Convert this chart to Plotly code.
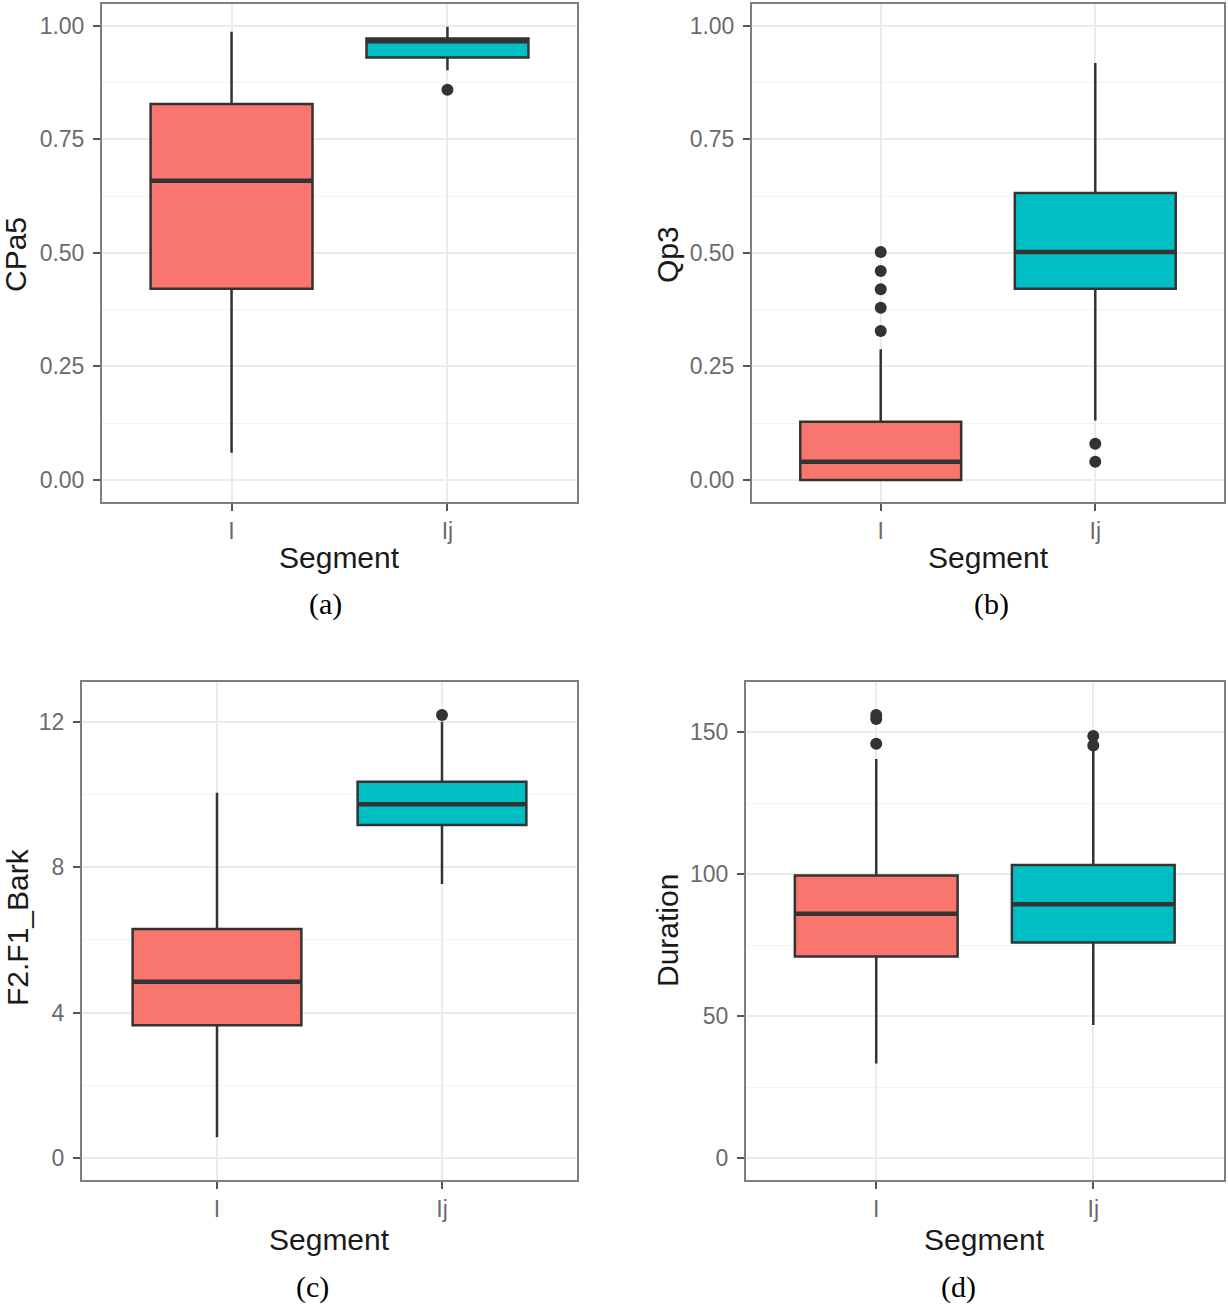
import plotly.graph_objects as go

# ---------------- data ----------------
categories = ["I", "Ij"]
fill_colors = ["#F8766D", "#00BFC4"]

# (a) CPa5
cpa5_lower = [0.06, 0.902]
cpa5_q1 = [0.421, 0.930]
cpa5_median = [0.659, 0.966]
cpa5_q3 = [0.828, 0.972]
cpa5_upper = [0.987, 0.998]
cpa5_outliers_I = []
cpa5_outliers_Ij = [0.859]

# (b) Qp3
qp3_lower = [0.0, 0.131]
qp3_q1 = [0.0, 0.421]
qp3_median = [0.040, 0.502]
qp3_q3 = [0.128, 0.632]
qp3_upper = [0.288, 0.918]
qp3_outliers_I = [0.328, 0.379, 0.420, 0.460, 0.502]
qp3_outliers_Ij = [0.040, 0.080]

# (c) F2.F1_Bark
bark_lower = [0.57, 7.54]
bark_q1 = [3.65, 9.16]
bark_median = [4.85, 9.73]
bark_q3 = [6.30, 10.35]
bark_upper = [10.05, 12.0]
bark_outliers_I = []
bark_outliers_Ij = [12.19]

# (d) Duration
dur_lower = [33.3, 46.8]
dur_q1 = [71.0, 75.9]
dur_median = [86.0, 89.4]
dur_q3 = [99.5, 103.2]
dur_upper = [140.5, 144.2]
dur_outliers_I = [145.9, 154.6, 156.0]
dur_outliers_Ij = [145.3, 148.6]

y_titles = ["CPa5", "Qp3", "F2.F1_Bark", "Duration"]
captions = ["(a)", "(b)", "(c)", "(d)"]
x_title = "Segment"

y_ticks = [
    [0, 0.25, 0.5, 0.75, 1.0],
    [0, 0.25, 0.5, 0.75, 1.0],
    [0, 4, 8, 12],
    [0, 50, 100, 150],
]
y_ticktext = [
    ["0.00", "0.25", "0.50", "0.75", "1.00"],
    ["0.00", "0.25", "0.50", "0.75", "1.00"],
    ["0", "4", "8", "12"],
    ["0", "50", "100", "150"],
]
y_minor = [0.125, 0.125, 2, 25]
y_ranges = [[-0.0485, 1.048], [-0.0485, 1.048], [-0.605, 13.11], [-7.75, 167.8]]

panels = [
    (cpa5_lower, cpa5_q1, cpa5_median, cpa5_q3, cpa5_upper, [cpa5_outliers_I, cpa5_outliers_Ij]),
    (qp3_lower, qp3_q1, qp3_median, qp3_q3, qp3_upper, [qp3_outliers_I, qp3_outliers_Ij]),
    (bark_lower, bark_q1, bark_median, bark_q3, bark_upper, [bark_outliers_I, bark_outliers_Ij]),
    (dur_lower, dur_q1, dur_median, dur_q3, dur_upper, [dur_outliers_I, dur_outliers_Ij]),
]

# ---------------- layout geometry (pixels) ----------------
W, H = 1228, 1307
frames = [  # left, right, top, bottom
    (102, 577, 4, 502),
    (752, 1224, 4, 502),
    (82, 577, 681.5, 1180),
    (746, 1223.5, 681.5, 1180),
]
ytitle_pos = [(16, 255), (668, 255), (17, 927), (667, 931)]
xtitle_pos = [(339.5, 558), (988, 558), (329.5, 1239), (984.5, 1239)]
caption_pos = [(325, 604), (991, 604), (312, 1287), (958, 1287)]

SANS = "Liberation Sans, Arial, sans-serif"
SERIF = "Liberation Serif, Times New Roman, serif"
DARK = "#333333"

fig = go.Figure()
layout_axes = {}
shapes = []
annotations = []

for p, (lo, q1, med, q3, up, outs) in enumerate(panels):
    n = "" if p == 0 else str(p + 1)
    xr, yr = "x" + n, "y" + n
    for i, cat in enumerate(categories):
        fig.add_trace(go.Box(
            x=[cat], q1=[q1[i]], median=[med[i]], q3=[q3[i]],
            lowerfence=[lo[i]], upperfence=[up[i]],
            width=0.75, whiskerwidth=0, boxpoints=False,
            fillcolor=fill_colors[i], line=dict(color=DARK, width=2.5),
            showlegend=False, xaxis=xr, yaxis=yr,
        ))
        if outs[i]:
            fig.add_trace(go.Scatter(
                x=[cat] * len(outs[i]), y=outs[i], mode="markers",
                marker=dict(color=DARK, size=12), showlegend=False,
                xaxis=xr, yaxis=yr,
            ))
        shapes.append(dict(
            type="line", xref=xr, yref=yr,
            x0=i - 0.375, x1=i + 0.375, y0=med[i], y1=med[i],
            line=dict(color=DARK, width=4.5), layer="above",
        ))

    l, r, t, b = frames[p]
    layout_axes["xaxis" + n] = dict(
        domain=[l / W, r / W], anchor=yr, type="category",
        categoryorder="array", categoryarray=categories,
        range=[-0.6, 1.6], showgrid=True, gridcolor="#EBEBEB", gridwidth=1.5,
        showline=True, mirror=True, linecolor="#7F7F7F", linewidth=2,
        ticks="outside", ticklen=7, tickwidth=2, tickcolor="#555555",
        tickfont=dict(family=SANS, size=23, color="#6B6B6B"),
        zeroline=False, fixedrange=True,
    )
    layout_axes["yaxis" + n] = dict(
        domain=[1 - b / H, 1 - t / H], anchor=xr,
        range=y_ranges[p], tickvals=y_ticks[p], ticktext=y_ticktext[p],
        showgrid=True, gridcolor="#EBEBEB", gridwidth=1.5,
        minor=dict(dtick=y_minor[p], tick0=0, showgrid=True,
                   gridcolor="#F3F3F3", gridwidth=1, ticks=""),
        showline=True, mirror=True, linecolor="#7F7F7F", linewidth=2,
        ticks="outside", ticklen=7, tickwidth=2, tickcolor="#555555",
        ticklabelstandoff=4,
        tickfont=dict(family=SANS, size=23, color="#6B6B6B"),
        zeroline=False, fixedrange=True,
    )

    tx, ty = ytitle_pos[p]
    annotations.append(dict(
        text=y_titles[p], x=tx / W, y=1 - ty / H, xref="paper", yref="paper",
        textangle=-90, showarrow=False, xanchor="center", yanchor="middle",
        font=dict(family=SANS, size=30, color="#1A1A1A"),
    ))
    sx, sy = xtitle_pos[p]
    annotations.append(dict(
        text=x_title, x=sx / W, y=1 - sy / H, xref="paper", yref="paper",
        showarrow=False, xanchor="center", yanchor="middle",
        font=dict(family=SANS, size=30, color="#1A1A1A"),
    ))
    cx, cy = caption_pos[p]
    annotations.append(dict(
        text=captions[p], x=cx / W, y=1 - cy / H, xref="paper", yref="paper",
        showarrow=False, xanchor="center", yanchor="middle",
        font=dict(family=SERIF, size=30, color="#000000"),
    ))

fig.update_layout(
    width=W, height=H, margin=dict(l=0, r=0, t=0, b=0),
    paper_bgcolor="white", plot_bgcolor="white",
    shapes=shapes, annotations=annotations, **layout_axes,
)

fig.write_html("out.html", include_plotlyjs=True, config={"displayModeBar": False})
